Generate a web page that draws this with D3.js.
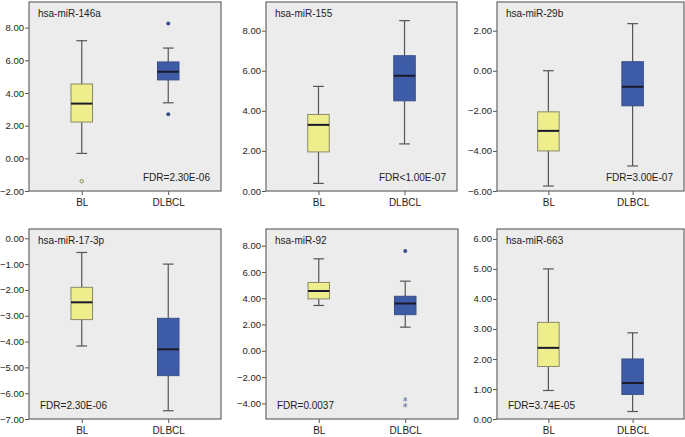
<!DOCTYPE html>
<html><head><meta charset="utf-8">
<script src="https://cdn.jsdelivr.net/npm/d3@7"></script>
<style>body{margin:0;background:#fff}svg{display:block;font-family:"Liberation Sans",Arial,sans-serif}</style>
</head><body>
<svg id="c" width="685" height="437"></svg>
<script>
// ---- data ----
const panelTitles = ["hsa-miR-146a","hsa-miR-155","hsa-miR-29b","hsa-miR-17-3p","hsa-miR-92","hsa-miR-663"];
const fdrLabels = ["FDR=2.30E-06","FDR<1.00E-07","FDR=3.00E-07","FDR=2.30E-06","FDR=0.0037","FDR=3.74E-05"];
const groups = ["BL","DLBCL"];
// [lower whisker, Q1, median, Q3, upper whisker]
const blStats = [
  [0.30, 2.22, 3.35, 4.55, 7.20],
  [0.38, 1.95, 3.30, 3.82, 5.22],
  [-5.75, -4.00, -3.00, -2.05, 0.00],
  [-4.17, -3.15, -2.48, -1.90, -0.55],
  [3.45, 3.95, 4.55, 5.20, 7.00],
  [0.95, 1.75, 2.37, 3.22, 5.00]
];
const dlbclStats = [
  [3.40, 4.80, 5.30, 5.90, 6.75],
  [2.35, 4.50, 5.75, 6.75, 8.50],
  [-4.75, -1.75, -0.80, 0.45, 2.35],
  [-6.68, -5.32, -4.30, -3.10, -1.00],
  [1.80, 2.75, 3.60, 4.15, 5.30],
  [0.25, 0.82, 1.20, 2.00, 2.87]
];
// outliers: circles ("o") and extremes ("*")
const blOutliers = [[{v:-1.40,t:"o"}],[],[],[],[],[]];
const dlbclOutliers = [[{v:8.25,t:"o"},{v:2.70,t:"o"}],[],[],[],[{v:7.60,t:"o"},{v:-3.70,t:"*"},{v:-4.15,t:"*"}],[]];
const yDomains = [[-2,9.57],[0,9.43],[-6,3.43],[-7,0.36],[-5.19,9.27],[0,6.33]];
const yTicks = [[-2,0,2,4,6,8],[0,2,4,6,8],[-6,-4,-2,0,2],[-7,-6,-5,-4,-3,-2,-1,0],[-4,-2,0,2,4,6,8],[0,1,2,3,4,5,6]];

// ---- layout ----
const frames = [[29,2,221,191],[266,2,457,191],[497,2,684,191],[29,229,221,419],[266,229,458,419],[497,229,684,419]];
const fills = {BL:"#eeee8c", DLBCL:"#3d5ba6"};
const outColor = {BL:"#9a9a70", DLBCL:"#3a4f8a"};
const svg = d3.select("#c");

panelTitles.forEach((title,i)=>{
  const [x0,y0,x1,y1] = frames[i];
  const g = svg.append("g");
  const y = d3.scaleLinear().domain(yDomains[i]).range([y1,y0]);
  const x = d3.scalePoint().domain(groups).range([x0,x1]).padding(0.61);
  g.append("rect").attr("x",x0).attr("y",y0).attr("width",x1-x0).attr("height",y1-y0)
    .attr("fill","#ececec");
  const ya = g.append("g").attr("transform",`translate(${x0},0)`)
    .call(d3.axisLeft(y).tickValues(yTicks[i]).tickFormat(d3.format(".2f")).tickSize(4).tickPadding(1));
  const xa = g.append("g").attr("transform",`translate(0,${y1})`)
    .call(d3.axisBottom(x).tickSize(4).tickPadding(4));
  [ya,xa].forEach(a=>{
    a.select(".domain").remove();
    a.selectAll("line").attr("stroke","#555");
    a.selectAll("text").attr("font-size","10px").attr("fill","#222").attr("font-family","Liberation Sans, Arial, sans-serif");
  });
  ya.selectAll("text").attr("font-size","9.5px");
  g.append("rect").attr("x",x0).attr("y",y0).attr("width",x1-x0).attr("height",y1-y0)
    .attr("fill","none").attr("stroke","#666").attr("stroke-width",1.2);

  const stats = {BL:blStats[i], DLBCL:dlbclStats[i]};
  const outs = {BL:blOutliers[i], DLBCL:dlbclOutliers[i]};
  const bw = 21.5, cw = 10.7;
  groups.forEach(gr=>{
    const [lo,q1,md,q3,hi] = stats[gr];
    const cx = x(gr);
    g.append("line").attr("x1",cx).attr("x2",cx).attr("y1",y(hi)).attr("y2",y(q3)).attr("stroke","#555").attr("stroke-width",1.2);
    g.append("line").attr("x1",cx).attr("x2",cx).attr("y1",y(q1)).attr("y2",y(lo)).attr("stroke","#555").attr("stroke-width",1.2);
    [lo,hi].forEach(v=>g.append("line").attr("x1",cx-cw/2).attr("x2",cx+cw/2).attr("y1",y(v)).attr("y2",y(v)).attr("stroke","#555").attr("stroke-width",1.2));
    g.append("rect").attr("x",cx-bw/2).attr("y",y(q3)).attr("width",bw).attr("height",y(q1)-y(q3))
      .attr("fill",fills[gr]).attr("stroke", gr==="BL"?"#8a8a6a":"#3a4f8a").attr("stroke-width",1);
    g.append("line").attr("x1",cx-bw/2).attr("x2",cx+bw/2).attr("y1",y(md)).attr("y2",y(md)).attr("stroke","#1a1a2a").attr("stroke-width",2);
    outs[gr].forEach(o=>{
      if(o.t==="o"){
        if(gr==="BL"){
          g.append("circle").attr("cx",cx).attr("cy",y(o.v)).attr("r",1.8).attr("fill","#e4e4c8").attr("stroke","#8a8a6a").attr("stroke-width",0.9);
        } else {
          g.append("circle").attr("cx",cx).attr("cy",y(o.v)).attr("r",2).attr("fill",outColor[gr]);
        }
      } else {
        g.append("path").attr("d",d3.symbol(d3.symbolAsterisk,14)())
          .attr("transform",`translate(${cx},${y(o.v)})`)
          .attr("stroke","#7a88b0").attr("stroke-width",1).attr("fill","none");
      }
    });
  });
  g.append("text").attr("x",x0+9).attr("y",y0+15).attr("font-size","10px").attr("fill","#222").text(title);
  const top = i<3;
  g.append("text").attr("x", top? x1-11 : x0+11).attr("y",y1-10).attr("text-anchor", top?"end":"start")
    .attr("font-size","10px").attr("fill","#222").text(fdrLabels[i]);
});
</script>
</body></html>
